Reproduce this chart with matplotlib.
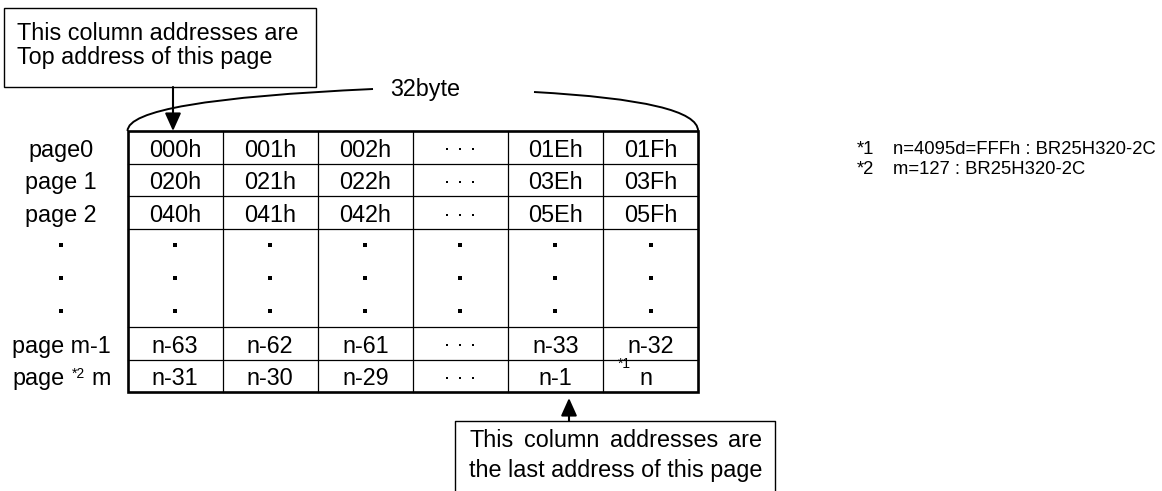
import matplotlib
matplotlib.use('Agg')
import matplotlib.pyplot as plt
from matplotlib.path import Path
from matplotlib.patches import PathPatch, Rectangle, FancyArrowPatch, ArrowStyle

plt.rcParams['font.family'] = ['Liberation Sans', 'DejaVu Sans']

# ---- data ----
row_labels = ["page0", "page 1", "page 2", ".", ".", ".", "page m-1", "page m"]
cells = [
    ["000h", "001h", "002h", "...", "01Eh", "01Fh"],
    ["020h", "021h", "022h", "...", "03Eh", "03Fh"],
    ["040h", "041h", "042h", "...", "05Eh", "05Fh"],
    [".", ".", ".", ".", ".", "."],
    [".", ".", ".", ".", ".", "."],
    [".", ".", ".", ".", ".", "."],
    ["n-63", "n-62", "n-61", "...", "n-33", "n-32"],
    ["n-31", "n-30", "n-29", "...", "n-1", "n"],
]
top_note = ["This column addresses are", "Top address of this page"]
bottom_note = ["This column addresses are", "the last address of this page"]
brace_label = "32byte"
footnotes = [("*1", "n=4095d=FFFh : BR25H320-2C"),
             ("*2", "m=127 : BR25H320-2C")]

# ---- layout (pixel coordinates) ----
FS = 16.8
FS_NOTE = 13.3
FS_SUP = 10
x0, cw = 127.5, 95.1
y0, rh = 131.0, 32.66
ncol, nrow = len(cells[0]), len(cells)
x1 = x0 + ncol * cw
y1 = y0 + nrow * rh

fig = plt.figure(figsize=(11.62, 4.91), dpi=100)
ax = fig.add_axes([0, 0, 1, 1])
ax.set_xlim(0, 1162)
ax.set_ylim(491, 0)
ax.axis('off')

# grid
for j in range(1, ncol):
    ax.plot([x0 + j * cw] * 2, [y0, y1], color='black', lw=0.9)
for i in (1, 2, 3, 6, 7):
    ax.plot([x0, x1], [y0 + i * rh] * 2, color='black', lw=0.9)
ax.add_patch(Rectangle((x0, y0), x1 - x0, y1 - y0, fill=False, ec='black', lw=1.9))


def vdot(x, y):
    ax.plot([x], [y], marker='s', ms=2.4, color='black', mew=0)


def hdots(x, y):
    for dx in (-13, 0, 13):
        ax.plot([x + dx], [y], marker='s', ms=1.9, color='black', mew=0)


# row labels
lab_x = 61
for i, lab in enumerate(row_labels):
    cy = y0 + (i + 0.5) * rh
    if lab == ".":
        vdot(lab_x, cy)
    elif i == nrow - 1:
        ax.text(12.5, cy + 9.5, "page", fontsize=FS, ha='left', va='baseline')
        ax.text(72, cy + 2, "*2", fontsize=FS_SUP, ha='left', va='baseline')
        ax.text(91, cy + 9.5, "m", fontsize=FS, ha='left', va='baseline')
    else:
        ax.text(lab_x, cy + 9.5, lab, fontsize=FS, ha='center', va='baseline')

# cells
for i, row in enumerate(cells):
    cy = y0 + (i + 0.5) * rh
    for j, val in enumerate(row):
        cx = x0 + (j + 0.5) * cw
        if val == ".":
            vdot(cx, cy)
        elif val == "...":
            hdots(cx, cy + 2)
        elif i == nrow - 1 and j == ncol - 1:
            ax.text(cx - 33, cy - 8, "*1", fontsize=FS_SUP, ha='left', va='baseline')
            ax.text(cx - 5, cy + 9.5, val, fontsize=FS, ha='center', va='baseline')
        else:
            ax.text(cx, cy + 9.5, val, fontsize=FS, ha='center', va='baseline')

# top callout box
ax.add_patch(Rectangle((4, 8), 312, 79, fill=False, ec='black', lw=1.0))
ax.text(17, 39.5, top_note[0], fontsize=FS, ha='left', va='baseline')
ax.text(17, 63.5, top_note[1], fontsize=FS, ha='left', va='baseline')
head = ArrowStyle('-|>', head_length=1.0, head_width=0.45)
ax.add_patch(FancyArrowPatch((173, 87), (173, y0), arrowstyle=head, mutation_scale=10.8,
                             color='black', lw=1.5, shrinkA=0, shrinkB=0))

# bottom callout box (runs past the lower edge), first line justified
bx0, by0, tx = 455, 421, 469
line2 = ax.text(tx, 477, bottom_note[1], fontsize=FS, ha='left', va='baseline')
r = fig.canvas.get_renderer()
full_w = line2.get_window_extent(r).width
words = [ax.text(0, 447, w, fontsize=FS, ha='left', va='baseline')
         for w in bottom_note[0].split()]
ww = [t.get_window_extent(r).width for t in words]
gap = (full_w - sum(ww)) / (len(ww) - 1)
x = tx
for t, w in zip(words, ww):
    t.set_x(x)
    x += w + gap
bx1 = tx + full_w + 13
ax.plot([bx0, bx0, bx1, bx1], [500, by0, by0, 500], color='black', lw=1.0)
ax.add_patch(FancyArrowPatch((569, by0), (569, 398), arrowstyle=head, mutation_scale=10.8,
                             color='black', lw=1.5, shrinkA=0, shrinkB=0))

# brace over the table
left = Path([(x0, y0), (x0, 100), (373, 89)], [Path.MOVETO, Path.CURVE3, Path.CURVE3])
right = Path([(534, 92), (x1, 101), (x1, y0)], [Path.MOVETO, Path.CURVE3, Path.CURVE3])
for p in (left, right):
    ax.add_patch(PathPatch(p, fill=False, ec='black', lw=1.4))
ax.text(390, 96, brace_label, fontsize=FS, ha='left', va='baseline')

# footnotes
for k, (mark, txt) in enumerate(footnotes):
    yb = 154 + k * 20
    ax.text(857, yb, mark, fontsize=FS_NOTE, ha='left', va='baseline')
    ax.text(893, yb, txt, fontsize=FS_NOTE, ha='left', va='baseline')

plt.savefig('out.png', dpi=100)
